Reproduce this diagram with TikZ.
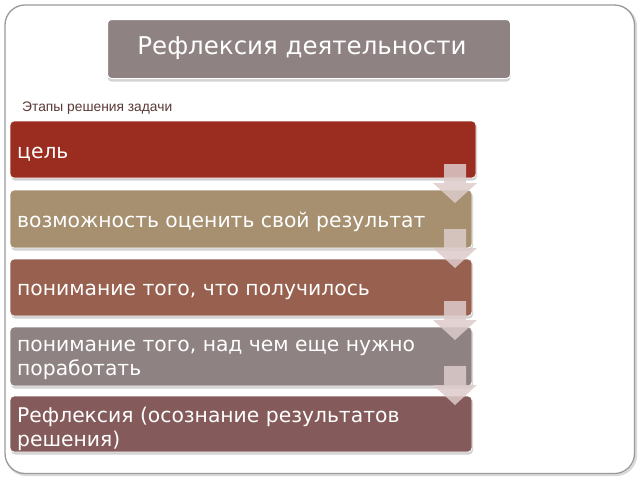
\documentclass[tikz,border=0pt]{standalone}
\usepackage{fontspec}
\setmainfont{DejaVu Sans}
\newfontfamily\smallfont{Liberation Sans}
\usetikzlibrary{shadows}
\definecolor{frameline}{HTML}{9A9A9A}
\definecolor{titlefill}{HTML}{8E8282}
\definecolor{labeltext}{HTML}{5A3A36}
\definecolor{boxA}{HTML}{9B2D20}
\definecolor{boxB}{HTML}{A69070}
\definecolor{boxC}{HTML}{97604F}
\definecolor{boxD}{HTML}{8E8282}
\definecolor{boxE}{HTML}{845B5A}
\definecolor{arrowfill}{HTML}{DDCBCB}
\tikzset{
  stagebox/.style={draw=white, line width=0.8pt, rounded corners=4pt,
    drop shadow={shadow xshift=1pt, shadow yshift=-2.5pt, opacity=0.35},
    anchor=north west, inner sep=0pt, outer sep=0pt},
  stagetext/.style={anchor=west, text=white, inner sep=0pt, align=left,
    font=\fontsize{20.3}{23.5}\selectfont},
  downarrow/.style={fill=arrowfill, draw=none, opacity=0.85},
}
\begin{document}
\begin{tikzpicture}[x=1pt,y=-1pt]
\useasboundingbox (0,0) rectangle (640,480);
% outer frame
\draw[line width=2.2pt, draw=black!15, rounded corners=20pt] (6.5,6.5) rectangle (636,475);
\draw[line width=1.3pt, draw=frameline, fill=white, rounded corners=20pt] (5,5) rectangle (634.5,473.5);
% title
\node[draw=white, line width=1pt, fill=titlefill, rounded corners=4pt,
  drop shadow={shadow xshift=0pt, shadow yshift=-3pt, opacity=0.35},
  minimum width=403pt, minimum height=59pt, anchor=north west, inner sep=0pt] (title) at (107,19) {};
\node[inner sep=0pt, text=white, font=\fontsize{24.5}{28}\selectfont] (titletext) at (302,48) {Рефлексия деятельности};
% label
\node[anchor=west, inner sep=0pt, text=labeltext, font=\smallfont\fontsize{13.8}{15}\selectfont] (lbl) at (22,108) {Этапы решения задачи};
% boxes
\node[stagebox, fill=boxA, minimum width=466pt, minimum height=57pt] (b1) at (10,121) {};
\node[stagetext] (t1) at (17,154) {цель};
\node[stagebox, fill=boxB, minimum width=462pt, minimum height=58pt] (b2) at (10,190) {};
\node[stagetext] (t2) at (17,222) {возможность оценить свой результат};
\node[stagebox, fill=boxC, minimum width=462pt, minimum height=57pt] (b3) at (10,259) {};
\node[stagetext] (t3) at (17,292) {понимание того, что получилось};
\node[stagebox, fill=boxD, minimum width=462pt, minimum height=59pt] (b4) at (10,327) {};
\node[stagetext] (t4) at (17,360) {понимание того, над чем еще нужно\\поработать};
\node[stagebox, fill=boxE, minimum width=462pt, minimum height=56pt] (b5) at (10,396) {};
\node[stagetext] (t5) at (17,429) {Рефлексия (осознание результатов\\решения)};
% arrows
\foreach \t/\n in {164/1,229/2,301/3,366/4}{
  \fill[downarrow] (444,\t) -- (466,\t) -- (466,\t+19) -- (477,\t+19) -- (455,\t+39) -- (433,\t+19) -- (444,\t+19) -- cycle;
}
\end{tikzpicture}
\end{document}
